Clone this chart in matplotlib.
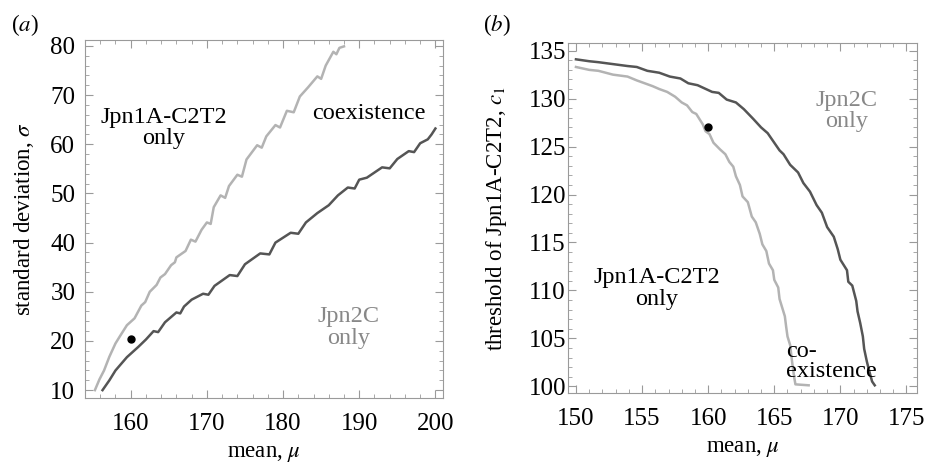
import matplotlib
matplotlib.use("Agg")
import matplotlib.pyplot as plt
from matplotlib.ticker import MultipleLocator

plt.rcParams['font.family'] = ['Liberation Serif', 'DejaVu Serif']
plt.rcParams['mathtext.fontset'] = 'stix'

# panel (a): mean vs standard deviation
a_light_mu = [155.3, 155.9, 156.5, 157.2, 158.0, 158.6, 159.5, 160.0, 160.5, 161.4, 161.9, 162.5,
              163.4, 163.9, 164.5, 165.3, 165.8, 166.0, 167.2, 167.9, 168.5, 169.3, 170.0, 170.5,
              170.9, 171.8, 172.4, 172.9, 174.0, 174.6, 175.2, 176.6, 177.2, 177.8, 179.0, 179.6,
              180.5, 181.4, 182.2, 183.3, 184.5, 185.0, 185.6, 186.6, 187.0, 187.4, 188.0]
a_light_sd = [10.0, 12.2, 14.0, 16.8, 19.5, 21.0, 23.2, 23.9, 24.6, 27.2, 27.9, 30.0,
              31.4, 32.9, 33.6, 35.4, 36.0, 37.0, 38.3, 40.6, 40.2, 42.6, 44.1, 43.8,
              47.2, 49.6, 49.1, 51.5, 53.8, 53.4, 56.9, 59.8, 59.3, 61.6, 63.9, 63.4,
              66.8, 66.5, 69.7, 71.6, 73.8, 73.3, 76.0, 78.8, 78.3, 79.6, 79.9]
a_dark_mu = [156.3, 157.2, 158.0, 159.5, 161.0, 162.0, 163.0, 163.6, 164.5, 166.0, 166.5, 167.0,
             168.0, 169.5, 170.2, 171.0, 173.0, 174.0, 175.0, 177.0, 178.2, 179.0, 181.0, 182.0,
             183.0, 184.5, 186.0, 187.2, 188.5, 189.4, 190.0, 191.0, 193.0, 194.0, 195.0, 196.5,
             197.2, 198.0, 199.0, 199.5, 200.0]
a_dark_sd = [10.0, 12.0, 14.0, 16.7, 18.8, 20.3, 22.0, 21.8, 23.8, 25.8, 25.6, 27.0,
             28.4, 29.6, 29.4, 31.2, 33.4, 33.2, 35.6, 37.8, 37.6, 40.0, 42.0, 41.8,
             44.1, 46.0, 47.6, 49.6, 51.2, 51.0, 52.8, 53.2, 55.3, 55.1, 57.0, 58.6,
             58.4, 60.2, 61.0, 62.0, 63.2]
a_point = (160, 20.3)

# panel (b): mean vs threshold c1
b_light_mu = [150.0, 151.0, 151.7, 152.8, 153.9, 154.6, 155.2, 155.8, 156.3, 156.9, 157.5, 158.0,
              158.4, 158.8, 159.1, 159.6, 159.8, 160.1, 160.4, 160.9, 161.3, 161.6, 161.9, 162.1,
              162.4, 162.6, 163.0, 163.3, 163.6, 163.9, 164.1, 164.4, 164.6, 164.9, 165.0, 165.3,
              165.4, 165.6, 165.8, 165.9, 166.0, 166.2, 166.3, 166.4, 166.5, 166.6, 167.6]
b_light_c1 = [133.3, 133.0, 132.9, 132.5, 132.3, 131.9, 131.6, 131.3, 131.0, 130.7, 130.2, 129.6,
              129.3, 128.6, 128.4, 127.3, 126.6, 126.3, 125.4, 124.7, 124.2, 123.4, 122.9, 121.9,
              121.0, 119.8, 119.2, 117.7, 117.1, 115.9, 114.8, 114.1, 112.8, 112.1, 111.1, 110.3,
              109.1, 108.2, 107.3, 106.2, 105.2, 104.3, 103.1, 102.0, 101.0, 100.2, 100.1]
b_dark_mu = [150.0, 151.0, 151.7, 152.8, 153.9, 154.6, 155.4, 156.3, 157.1, 157.9, 158.5, 159.2,
             160.3, 160.8, 161.4, 162.1, 162.7, 163.4, 164.0, 164.5, 164.9, 165.4, 165.7, 166.2,
             166.8, 167.2, 167.7, 168.2, 168.6, 169.0, 169.5, 169.8, 170.0, 170.5, 170.6, 170.9,
             171.2, 171.3, 171.5, 171.7, 171.8, 172.0, 172.2, 172.4, 172.6]
b_dark_c1 = [134.1, 133.9, 133.8, 133.6, 133.4, 133.3, 132.9, 132.7, 132.3, 132.1, 131.6, 131.4,
             130.7, 130.6, 129.9, 129.6, 128.9, 127.9, 127.0, 126.4, 125.6, 124.6, 124.2, 123.1,
             122.3, 121.2, 120.3, 118.9, 118.1, 116.6, 115.6, 114.3, 113.2, 112.1, 110.9, 110.5,
             108.9, 107.8, 106.6, 105.2, 103.9, 102.6, 101.5, 100.5, 100.1]
b_point = (160.0, 127.0)

light = '#b3b3b3'
dark = '#555555'
frame = '#9a9a9a'
fs_tick = 18
fs_lab = 16.5
fs_txt = 17.5

fig = plt.figure(figsize=(9.28, 4.66), dpi=100)
ax1 = fig.add_axes([0.0916, 0.1459, 0.3858, 0.7683])
ax2 = fig.add_axes([0.6121, 0.1567, 0.3761, 0.7510])

ax1.plot(a_light_mu, a_light_sd, color=light, lw=1.8)
ax1.plot(a_dark_mu, a_dark_sd, color=dark, lw=1.8)
ax1.plot(*a_point, 'o', color='black', ms=5)
ax1.set_xlim(154, 201)
ax1.set_ylim(8.4, 81.2)
ax1.xaxis.set_major_locator(MultipleLocator(10))
ax1.xaxis.set_minor_locator(MultipleLocator(2))
ax1.yaxis.set_major_locator(MultipleLocator(10))
ax1.yaxis.set_minor_locator(MultipleLocator(2))
ax1.set_xlabel(r'mean, $\mu$', fontsize=fs_lab, labelpad=6)
ax1.set_ylabel(r'standard deviation, $\sigma$', fontsize=fs_lab, labelpad=10)
ax1.text(164.3, 63.3, 'Jpn1A-C2T2\nonly', ha='center', va='center', fontsize=fs_txt, linespacing=1.05)
ax1.text(191.2, 66.3, 'coexistence', ha='center', va='center', fontsize=fs_txt)
ax1.text(188.6, 22.8, 'Jpn2C\nonly', ha='center', va='center', fontsize=fs_txt, color='#888888', linespacing=1.05)
ax1.tick_params(axis='y', pad=7)

ax2.plot(b_light_mu, b_light_c1, color=light, lw=1.8)
ax2.plot(b_dark_mu, b_dark_c1, color=dark, lw=1.8)
ax2.plot(*b_point, 'o', color='black', ms=5)
ax2.set_xlim(149.4, 175.8)
ax2.set_ylim(99.3, 135.8)
ax2.xaxis.set_major_locator(MultipleLocator(5))
ax2.xaxis.set_minor_locator(MultipleLocator(1))
ax2.yaxis.set_major_locator(MultipleLocator(5))
ax2.yaxis.set_minor_locator(MultipleLocator(1))
ax2.set_xlabel(r'mean, $\mu$', fontsize=fs_lab, labelpad=6)
ax2.set_ylabel(r'threshold of Jpn1A-C2T2, $c_1$', fontsize=fs_lab, labelpad=14)
ax2.text(156.1, 110.2, 'Jpn1A-C2T2\nonly', ha='center', va='center', fontsize=fs_txt, linespacing=1.05)
ax2.text(170.5, 128.7, 'Jpn2C\nonly', ha='center', va='center', fontsize=fs_txt, color='#888888', linespacing=1.05)
ax2.text(165.9, 102.6, 'co-\nexistence', ha='left', va='center', fontsize=fs_txt, linespacing=0.95)
ax2.tick_params(axis='y', pad=1.5)

for ax in (ax1, ax2):
    for s in ax.spines.values():
        s.set_color(frame)
    ax.tick_params(which='both', direction='in', top=True, right=True, color=frame,
                   labelsize=fs_tick)
    ax.tick_params(axis='x', pad=10.5)
    ax.tick_params(which='major', length=6)
    ax.tick_params(which='minor', length=3)

fig.text(25 / 928, 1 - 25 / 466, '($a$)', fontsize=fs_lab, ha='center', va='center')
fig.text(497 / 928, 1 - 25 / 466, '($b$)', fontsize=fs_lab, ha='center', va='center')

fig.savefig('out.png', dpi=100)
